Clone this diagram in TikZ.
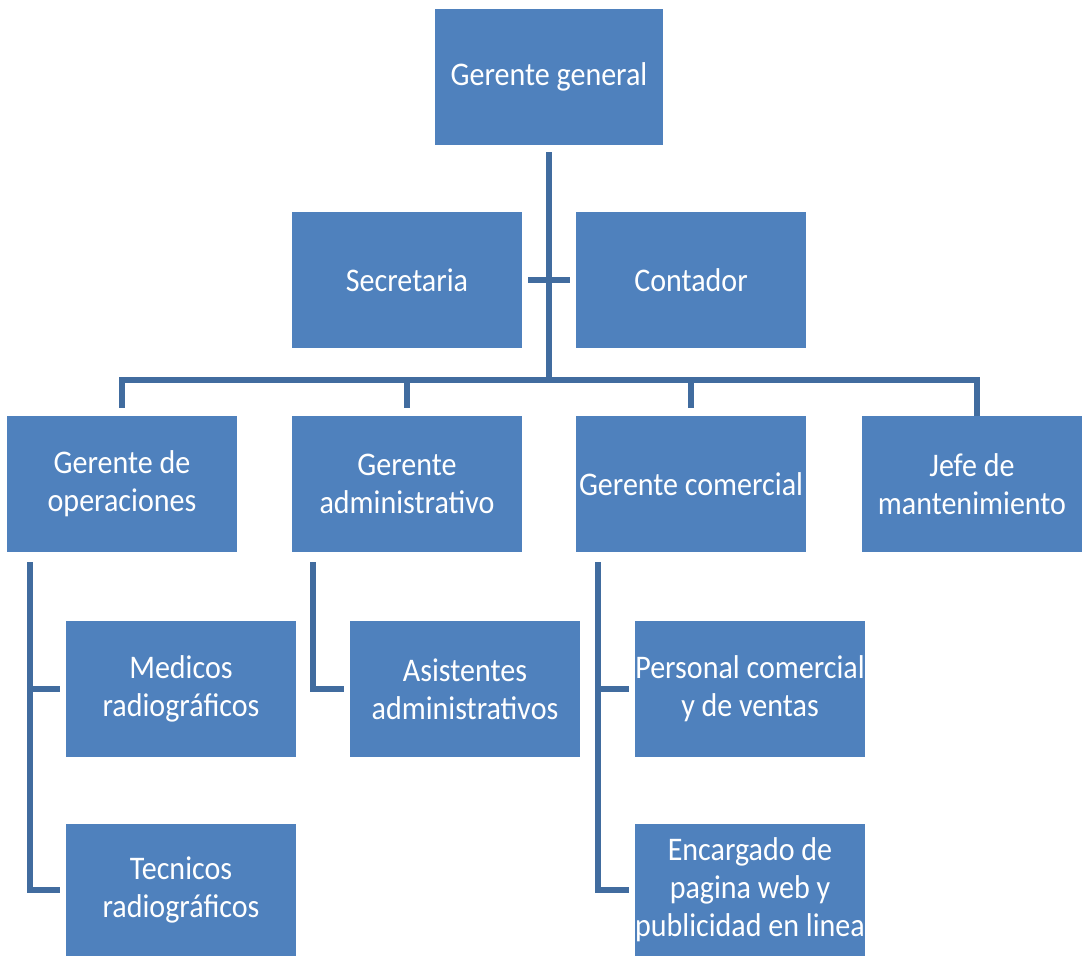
\documentclass[tikz,border=0pt]{standalone}
\usepackage{fontspec}
\setmainfont{Carlito}[FakeStretch=0.91]
\usetikzlibrary{calc}
\definecolor{BoxBlue}{HTML}{4F81BD}
\definecolor{LinkBlue}{HTML}{416C9F}
\tikzset{%
	% Style of the box
	Box/.style={rectangle,fill=BoxBlue,draw=none,text=white,inner sep=0,
		minimum width=230pt,minimum height=136pt,align=center,
		font=\fontsize{33}{38}\selectfont},
	% Style of the cut box at the bottom
	LowBox/.style={Box,minimum height=132pt},
	% Style of the connection
	Link/.style={draw=LinkBlue,line width=5.5pt,line join=miter},
}

\begin{document}
\begin{tikzpicture}[x=1pt,y=-1pt]
\useasboundingbox (0,0) rectangle (1082,956);

%~~~~~~~~~~~~~~~~~~~~~~~~~~~~~~~~~~~~~~~~~~~~~~~~~~
% Set Boxes
%~~~~~~~~~~~~~~~~~~~~~~~~~~~~~~~~~~~~~~~~~~~~~~~~~~
\node[Box,minimum width=228pt] (GG) at (549, 77) {Gerente general};

\node[Box] (SEC) at (407, 280) {Secretaria};
\node[Box] (CON) at (691, 280) {Contador};

\node[Box] (OPE) at (122, 484) {Gerente de\\operaciones};
\node[Box] (ADM) at (407, 484) {Gerente\\administrativo};
\node[Box] (COM) at (691, 484) {Gerente comercial};
\node[Box,minimum width=220pt] (MAN) at (972, 484) {Jefe de\\mantenimiento};

\node[Box] (MED) at (181, 689) {Medicos\\radiográficos};
\node[LowBox] (TEC) at (181, 890) {Tecnicos\\radiográficos};
\node[Box] (ASI) at (465, 689) {Asistentes\\administrativos};
\node[Box] (PER) at (750, 689) {Personal comercial\\y de ventas};
\node[LowBox] (ENC) at (750, 890) {Encargado de\\pagina web y\\publicidad en linea};

%~~~~~~~~~~~~~~~~~~~~~~~~~~~~~~~~~~~~~~~~~~~~~~~~~~
% Set Points
%~~~~~~~~~~~~~~~~~~~~~~~~~~~~~~~~~~~~~~~~~~~~~~~~~~
\coordinate (BUS) at (549, 380);
\coordinate (MANdrop) at (977, 380);
\coordinate (OPEtop) at (30, 562);
\coordinate (ADMtop) at (313, 562);
\coordinate (COMtop) at (598, 562);

%~~~~~~~~~~~~~~~~~~~~~~~~~~~~~~~~~~~~~~~~~~~~~~~~~~
% Set Connections
%~~~~~~~~~~~~~~~~~~~~~~~~~~~~~~~~~~~~~~~~~~~~~~~~~~
%Trunk from GG to the bus
\draw[Link] ([yshift=-7pt]GG.south) -- (BUS);
\draw[Link] ([xshift=6pt]SEC.east) -- ([xshift=-6pt]CON.west);

%Bus to the second row
\draw[Link] ([yshift=8pt]OPE.north) -- (OPE.north |- BUS) -- (MANdrop) -- (MANdrop |- MAN.north) -- +(0,-8);
\draw[Link] (ADM.north |- BUS) -- ([yshift=8pt]ADM.north);
\draw[Link] (COM.north |- BUS) -- ([yshift=8pt]COM.north);

%Branch from OPE
\draw[Link] (OPEtop) -- (OPEtop |- TEC) -- ([xshift=-6pt]TEC.west);
\draw[Link] (OPEtop |- MED) -- ([xshift=-6pt]MED.west);

%Branch from ADM
\draw[Link] (ADMtop) -- (ADMtop |- ASI) -- ([xshift=-6pt]ASI.west);

%Branch from COM
\draw[Link] (COMtop) -- (COMtop |- ENC) -- ([xshift=-6pt]ENC.west);
\draw[Link] (COMtop |- PER) -- ([xshift=-6pt]PER.west);

\end{tikzpicture}
\end{document}
